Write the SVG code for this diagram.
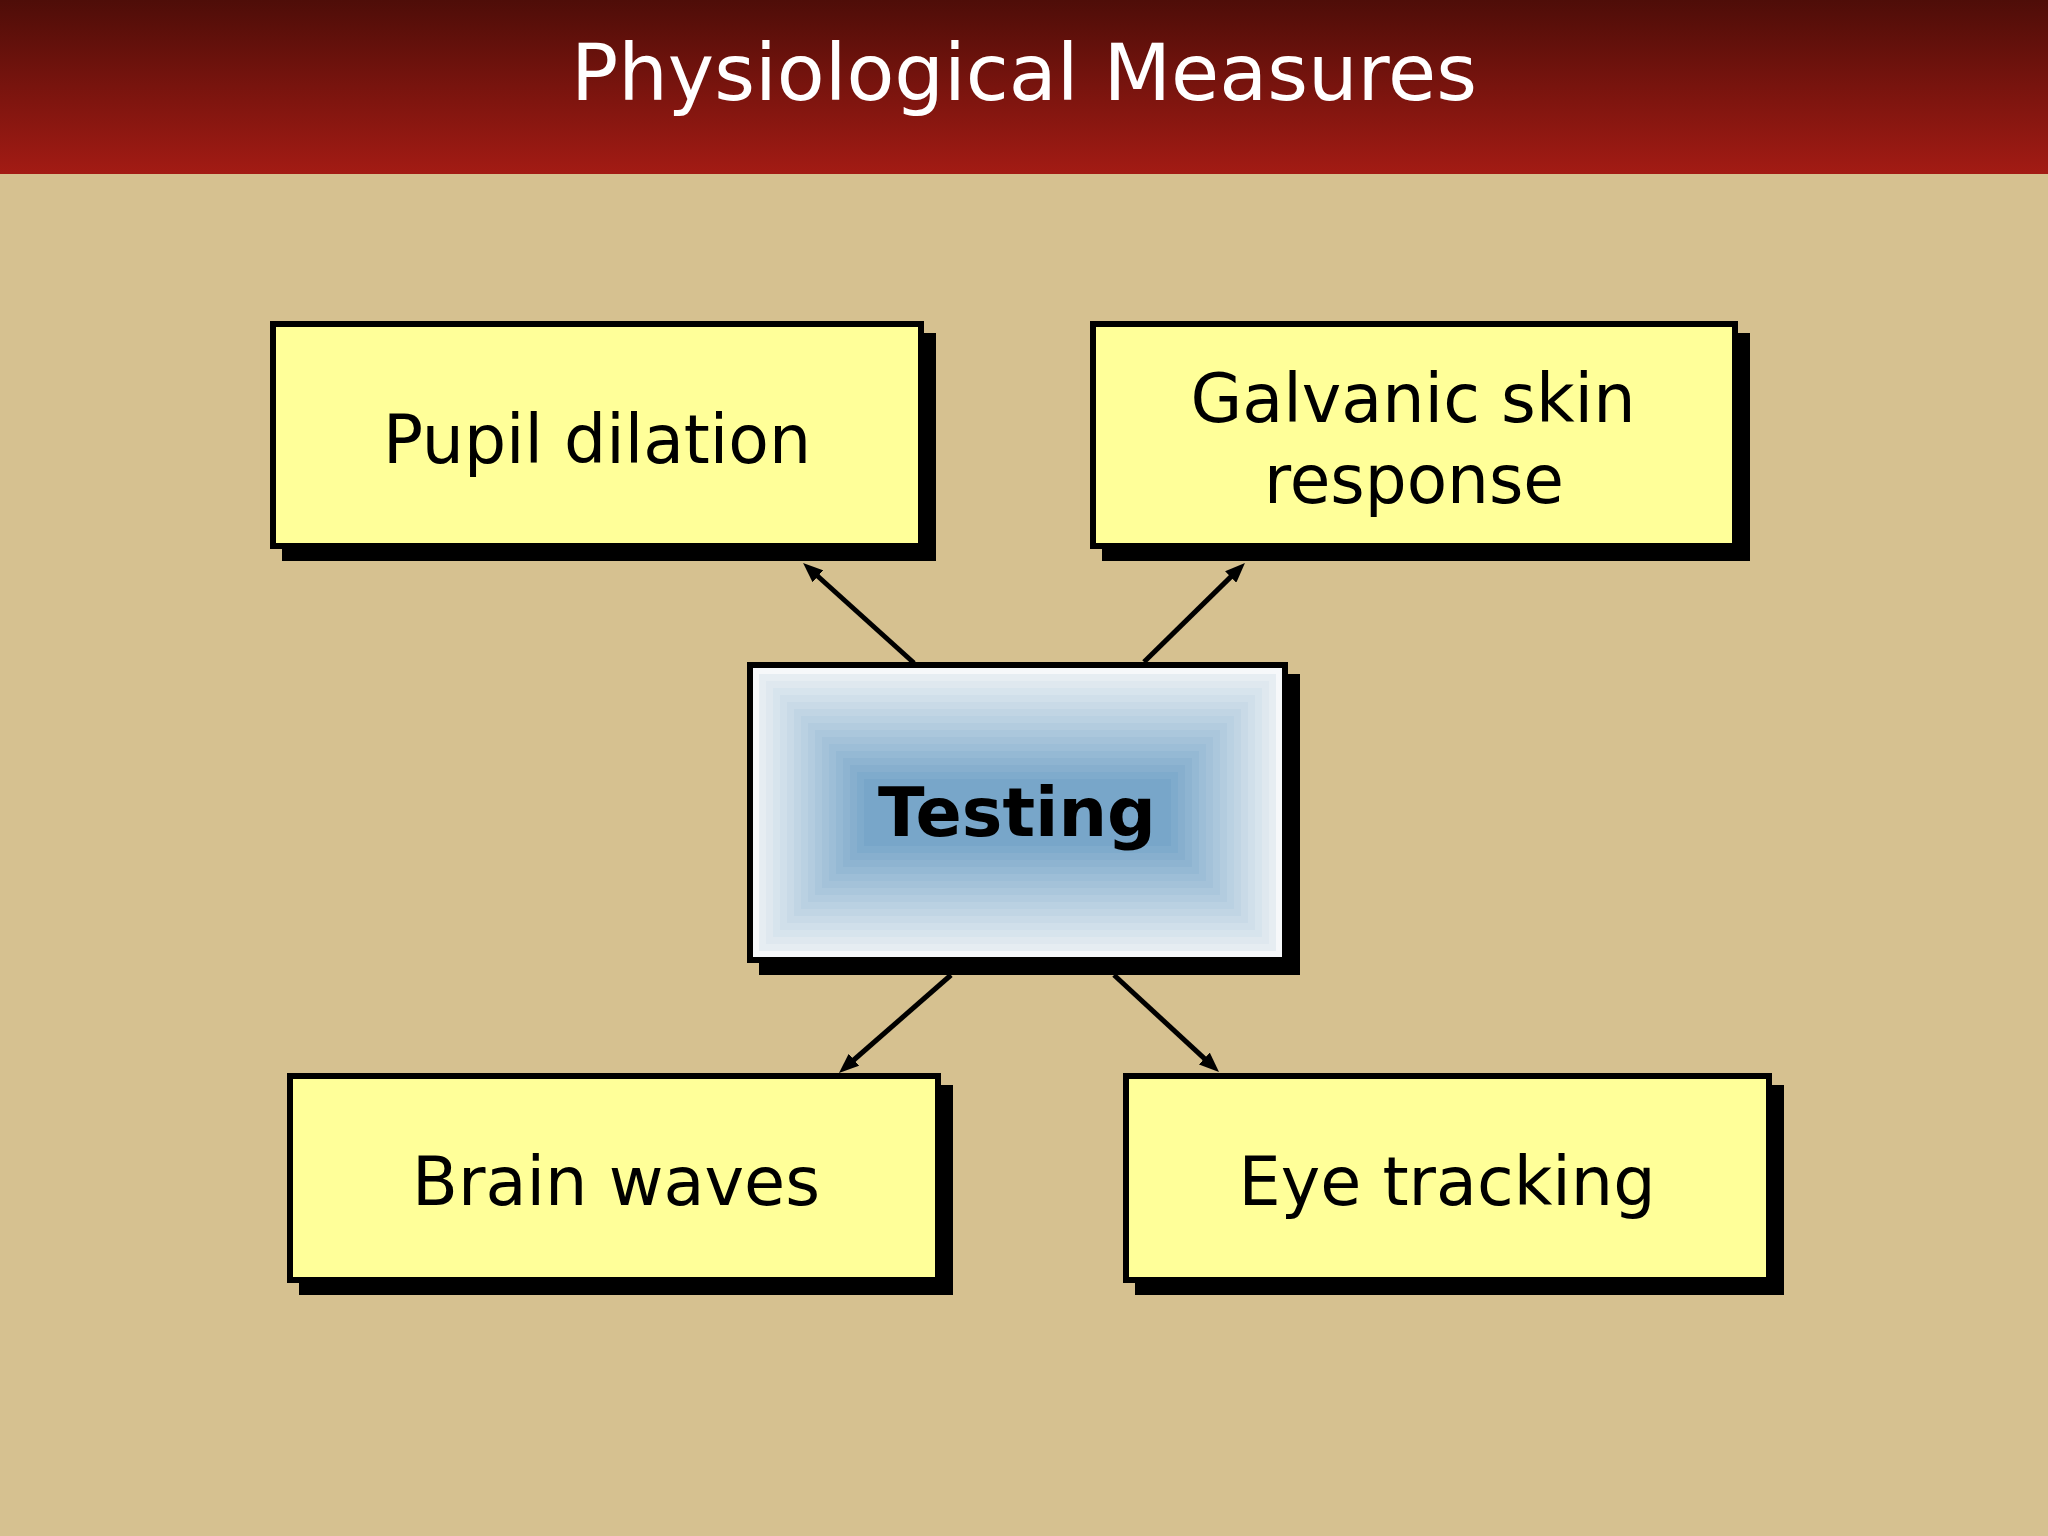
<svg xmlns="http://www.w3.org/2000/svg" width="2048" height="1536" viewBox="0 0 2048 1536">
  <defs>
    <linearGradient id="hdr" x1="0" y1="0" x2="0" y2="1">
      <stop offset="0" stop-color="#4e0d08"/>
      <stop offset="1" stop-color="#a31b14"/>
    </linearGradient>
    <marker id="ah" viewBox="0 0 20 16" refX="8" refY="8" markerWidth="20" markerHeight="16" markerUnits="userSpaceOnUse" orient="auto">
      <path d="M0,0 L20,8 L0,16 z" fill="#000"/>
    </marker>
  </defs>
  <style>
    .shadow { fill: #000; }
    .box { fill: #ffff99; stroke: #000; stroke-width: 6; }
    .lbl { font-family: "DejaVu Sans", Verdana, sans-serif; font-size: 68px; fill: #000; text-anchor: middle; }
    .bold { font-weight: bold; }
    .title { font-family: "DejaVu Sans", Verdana, sans-serif; font-size: 78px; fill: #fff; text-anchor: middle; }
    .conn { stroke: #000; stroke-width: 5; fill: none; marker-end: url(#ah); }
  </style>

  <rect x="0" y="0" width="2048" height="1536" fill="#d6c190"/>
  <rect x="0" y="0" width="2048" height="174" fill="url(#hdr)"/>
  <text class="title" x="1024" y="100" textLength="906" lengthAdjust="spacingAndGlyphs">Physiological Measures</text>

  <g id="node-pupil">
    <rect class="shadow" x="282" y="333" width="654" height="228"/>
    <rect class="box" x="273" y="324" width="648" height="222"/>
    <text class="lbl" x="597" y="463" textLength="428" lengthAdjust="spacingAndGlyphs">Pupil dilation</text>
  </g>

  <g id="node-galvanic">
    <rect class="shadow" x="1102" y="333" width="648" height="228"/>
    <rect class="box" x="1093" y="324" width="642" height="222"/>
    <text class="lbl" x="1413" y="422" textLength="445" lengthAdjust="spacingAndGlyphs">Galvanic skin</text>
    <text class="lbl" x="1414" y="503" textLength="300" lengthAdjust="spacingAndGlyphs">response</text>
  </g>

  <g id="node-testing">
    <rect class="shadow" x="759" y="674" width="541" height="301"/>
    <rect x="750" y="665" width="535" height="295" fill="#f6f8fa" stroke="#000" stroke-width="6"/>
    <rect x="759" y="674" width="517" height="277" fill="#e6edf2"/>
    <rect x="766" y="681" width="503" height="263" fill="#dfe8ef"/>
    <rect x="773" y="688" width="489" height="249" fill="#d7e4ed"/>
    <rect x="780" y="695" width="475" height="235" fill="#d0dfea"/>
    <rect x="787" y="702" width="461" height="221" fill="#c9dae7"/>
    <rect x="794" y="709" width="447" height="207" fill="#c1d5e4"/>
    <rect x="801" y="716" width="433" height="193" fill="#bad1e2"/>
    <rect x="808" y="723" width="419" height="179" fill="#b3ccdf"/>
    <rect x="815" y="730" width="405" height="165" fill="#abc7dc"/>
    <rect x="822" y="737" width="391" height="151" fill="#a4c2d9"/>
    <rect x="829" y="744" width="377" height="137" fill="#9dbed7"/>
    <rect x="836" y="751" width="363" height="123" fill="#95b9d4"/>
    <rect x="843" y="758" width="349" height="109" fill="#8eb4d1"/>
    <rect x="850" y="765" width="335" height="95" fill="#87afce"/>
    <rect x="857" y="772" width="321" height="81" fill="#7fabcc"/>
    <rect x="864" y="779" width="307" height="67" fill="#78a6c9"/>
    <text class="lbl bold" x="1017" y="836" textLength="278" lengthAdjust="spacingAndGlyphs">Testing</text>
  </g>

  <g id="node-brain">
    <rect class="shadow" x="299" y="1085" width="654" height="210"/>
    <rect class="box" x="290" y="1076" width="648" height="204"/>
    <text class="lbl" x="616" y="1205" textLength="408" lengthAdjust="spacingAndGlyphs">Brain waves</text>
  </g>

  <g id="node-eye">
    <rect class="shadow" x="1135" y="1085" width="649" height="210"/>
    <rect class="box" x="1126" y="1076" width="643" height="204"/>
    <text class="lbl" x="1447" y="1205" textLength="417" lengthAdjust="spacingAndGlyphs">Eye tracking</text>
  </g>

  <g id="connectors">
    <line class="conn" x1="914" y1="663" x2="812" y2="571"/>
    <line class="conn" x1="1144" y1="662" x2="1236.4" y2="571.4"/>
    <line class="conn" x1="951" y1="975" x2="848" y2="1065"/>
    <line class="conn" x1="1114" y1="975" x2="1210.2" y2="1063.9"/>
  </g>
</svg>
